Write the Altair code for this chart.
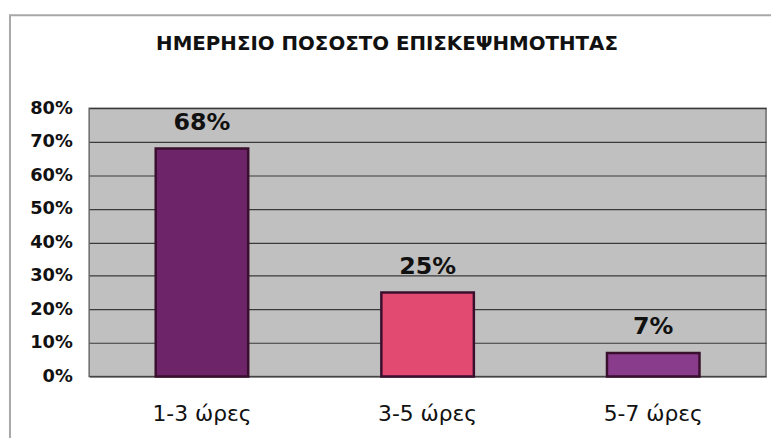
import altair as alt
import pandas as pd

# ---- data ----
categories = ["1-3 ώρες", "3-5 ώρες", "5-7 ώρες"]
values = [0.68, 0.25, 0.07]
value_labels = ["68%", "25%", "7%"]
bar_colors = ["#6E2468", "#E24A72", "#8A3C8C"]
y_ticks = [0, 0.1, 0.2, 0.3, 0.4, 0.5, 0.6, 0.7, 0.8]
title_text = "ΗΜΕΡΗΣΙΟ ΠΟΣΟΣΤΟ ΕΠΙΣΚΕΨΗΜΟΤΗΤΑΣ"

df = pd.DataFrame({"cat": categories, "val": values, "lab": value_labels})
frame_df = pd.DataFrame({"k": [0]})

FONT = "DejaVu Sans"

x_enc = alt.X(
    "cat:N",
    sort=categories,
    scale=alt.Scale(paddingInner=0.59, paddingOuter=0.295),
    axis=alt.Axis(
        title=None,
        labelAngle=0,
        labelFont=FONT,
        labelFontSize=22,
        labelFontWeight="normal",
        labelColor="#111111",
        labelPadding=28,
        ticks=False,
        domain=False,
        grid=False,
    ),
)
y_enc = alt.Y(
    "val:Q",
    scale=alt.Scale(domain=[0, 0.8], nice=False),
    axis=alt.Axis(
        title=None,
        values=y_ticks,
        format=".0%",
        labelFont=FONT,
        labelFontSize=18,
        labelFontWeight="bold",
        labelColor="#111111",
        labelPadding=17,
        labelOverlap=False,
        ticks=False,
        domain=False,
        grid=True,
        gridColor="#3a3a3a",
        gridWidth=1.2,
        gridOpacity=1,
    ),
)

bars = alt.Chart(df).mark_bar(stroke="#3a0f2e", strokeWidth=2.5).encode(
    x=x_enc,
    y=y_enc,
    color=alt.Color("cat:N", sort=categories,
                    scale=alt.Scale(domain=categories, range=bar_colors), legend=None),
)

texts = alt.Chart(df).mark_text(
    font=FONT, fontSize=24, fontWeight="bold", color="#111111",
    baseline="alphabetic", dy=-19,
).encode(x=x_enc, y=y_enc, text="lab:N")

frame = alt.Chart(frame_df).mark_rect(
    filled=False, stroke="#A8A8A8", strokeWidth=2
).encode(
    x=alt.value(-80), x2=alt.value(720), y=alt.value(-94), y2=alt.value(420)
)

chart = alt.layer(frame, bars, texts).properties(
    width=684,
    height=271,
    title=alt.TitleParams(
        text=title_text,
        font=FONT,
        fontSize=20,
        fontWeight="bold",
        color="#111111",
        anchor="middle",
        frame="group",
        baseline="middle",
        dx=-41,
        offset=-50,
    ),
    padding={"left": 82, "top": 99, "right": 5, "bottom": 60},
    autosize=alt.AutoSizeParams(type="none"),
    background="white",
).configure_view(
    fill="#C0C0C0", stroke="#6a6a6a", strokeWidth=1.5
)

chart.save("out.html", embed_options={"renderer": "svg", "actions": False})
